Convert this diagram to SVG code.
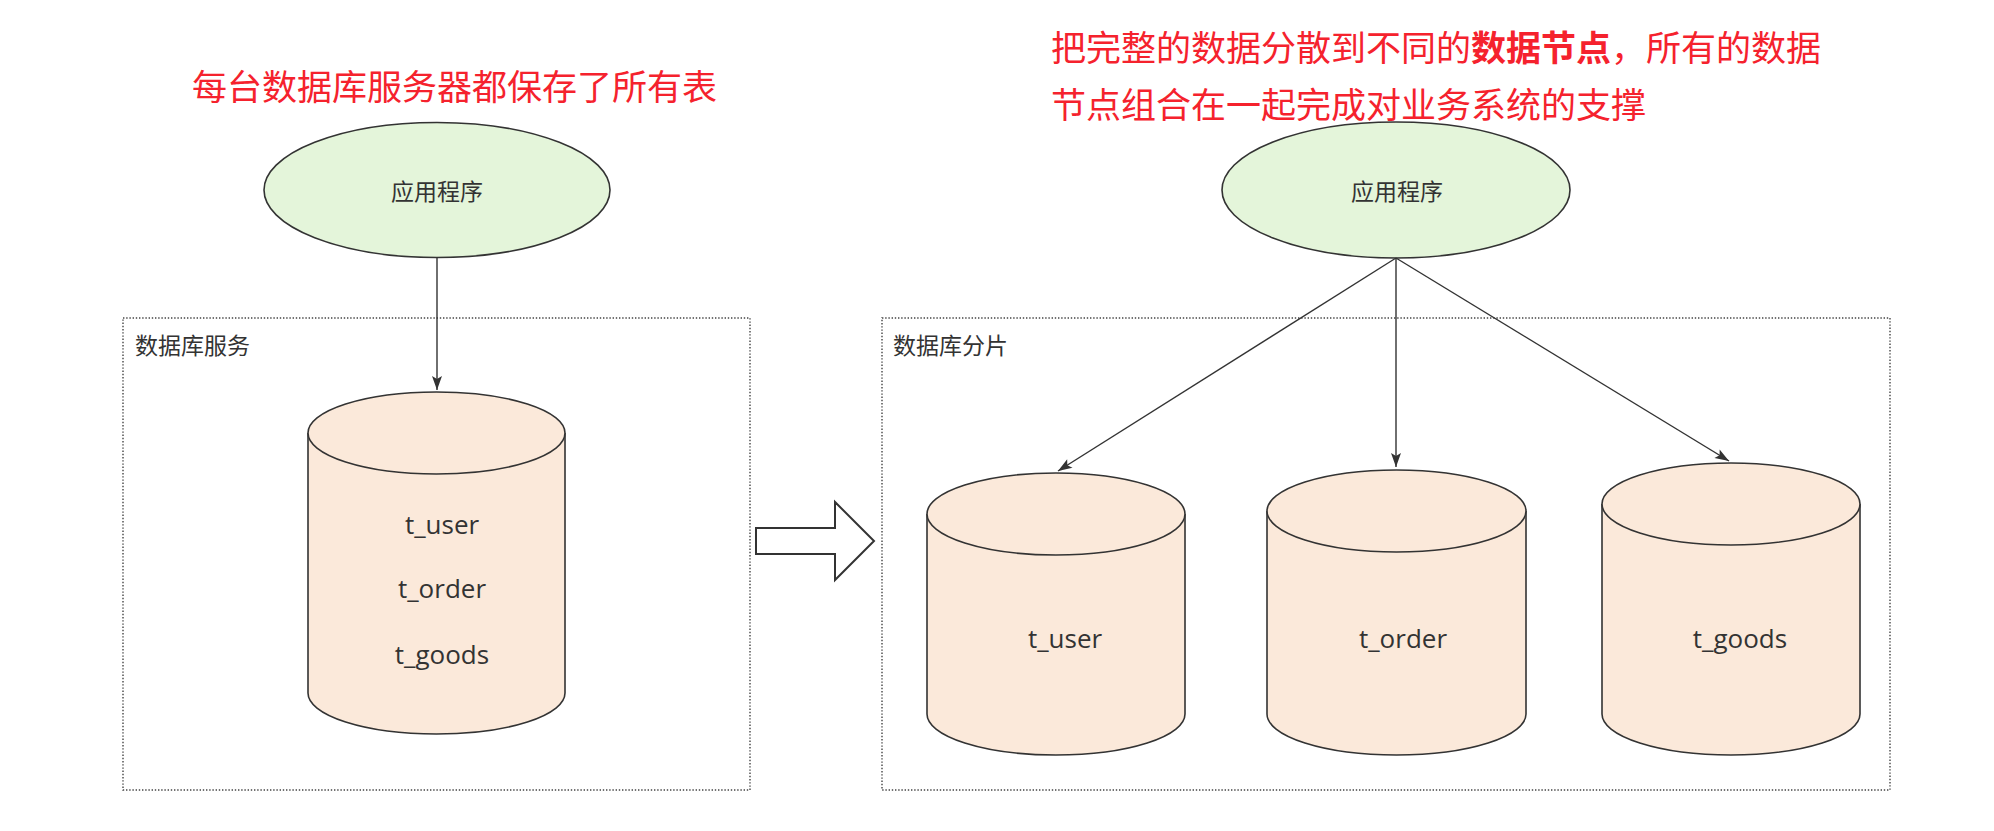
<svg xmlns="http://www.w3.org/2000/svg" width="1994" height="831" viewBox="0 0 1994 831">
  <style>
    .title { font-family: "Noto Sans CJK SC", "Liberation Sans", sans-serif; font-size: 35px; fill: #f5222d; }
    .label { font-family: "Noto Sans CJK SC", "Liberation Sans", sans-serif; font-size: 23px; fill: #333333; }
    .table { font-family: "Open Sans", "Noto Sans", "Noto Sans CJK SC", sans-serif; font-size: 26px; fill: #333333; text-anchor: middle; }
    .app { fill: #e4f5da; stroke: #333333; stroke-width: 1.6; }
    .db { fill: #fbe9da; stroke: #333333; stroke-width: 1.6; }
    .group { fill: none; stroke: #444444; stroke-width: 1.4; stroke-dasharray: 1.4 1.8; }
    .edge { fill: none; stroke: #333333; stroke-width: 1.4; marker-end: url(#arrow); }
  </style>
  <defs>
    <marker id="arrow" viewBox="0 0 16 12" refX="15" refY="6" markerWidth="16" markerHeight="12" markerUnits="userSpaceOnUse" orient="auto">
      <path d="M1,1 L15,6 L1,11 L4,6 Z" fill="#333333"/>
    </marker>
  </defs>

  <rect width="1994" height="831" fill="#ffffff"/>

  <!-- headings -->
  <g id="title-left">
    <text class="title" x="192" y="100">每台数据库服务器都保存了所有表</text>
  </g>
  <g id="title-right">
    <text class="title" x="1051" y="61">把完整的数据分散到不同的<tspan font-weight="bold">数据节点</tspan>，所有的数据</text>
    <text class="title" x="1051" y="118">节点组合在一起完成对业务系统的支撑</text>
  </g>

  <!-- containers -->
  <g id="group-db-service">
    <rect class="group" x="123" y="318" width="627" height="472"/>
    <text class="label" x="135" y="354">数据库服务</text>
  </g>
  <g id="group-db-shards">
    <rect class="group" x="882" y="318" width="1008" height="472"/>
    <text class="label" x="893" y="354">数据库分片</text>
  </g>

  <!-- application nodes -->
  <g id="app-left">
    <ellipse class="app" cx="437" cy="190" rx="173" ry="67.5"/>
    <text class="label" x="437" y="200" text-anchor="middle">应用程序</text>
  </g>
  <g id="app-right">
    <ellipse class="app" cx="1396" cy="190" rx="174" ry="68"/>
    <text class="label" x="1397" y="200" text-anchor="middle">应用程序</text>
  </g>

  <!-- single database holding every table -->
  <g id="db-all">
    <path class="db" d="M308,433 A128.5,41 0 0 1 565,433 L565,693 A128.5,41 0 0 1 308,693 Z"/>
    <path class="db" d="M308,433 A128.5,41 0 0 0 565,433"/>
    <text class="table" x="442" y="534">t_user</text>
    <text class="table" x="442" y="598">t_order</text>
    <text class="table" x="442" y="664">t_goods</text>
  </g>

  <!-- shard nodes -->
  <g id="db-user">
    <path class="db" d="M927,514 A129,41 0 0 1 1185,514 L1185,714 A129,41 0 0 1 927,714 Z"/>
    <path class="db" d="M927,514 A129,41 0 0 0 1185,514"/>
    <text class="table" x="1065" y="648">t_user</text>
  </g>
  <g id="db-order">
    <path class="db" d="M1267,511 A129.5,41 0 0 1 1526,511 L1526,714 A129.5,41 0 0 1 1267,714 Z"/>
    <path class="db" d="M1267,511 A129.5,41 0 0 0 1526,511"/>
    <text class="table" x="1403" y="648">t_order</text>
  </g>
  <g id="db-goods">
    <path class="db" d="M1602,504 A129,41 0 0 1 1860,504 L1860,714 A129,41 0 0 1 1602,714 Z"/>
    <path class="db" d="M1602,504 A129,41 0 0 0 1860,504"/>
    <text class="table" x="1740" y="648">t_goods</text>
  </g>

  <!-- transition arrow between the two layouts -->
  <g id="transition-arrow">
    <path d="M756,528 L835,528 L835,502 L874,541 L835,580 L835,554 L756,554 Z" fill="#ffffff" stroke="#333333" stroke-width="2" stroke-linejoin="miter"/>
  </g>

  <!-- connectors -->
  <g id="connectors">
    <path class="edge" d="M437,258 L437,390"/>
    <path class="edge" d="M1396,258 L1058,471"/>
    <path class="edge" d="M1396,258 L1396,467"/>
    <path class="edge" d="M1396,258 L1729,461"/>
  </g>
</svg>
